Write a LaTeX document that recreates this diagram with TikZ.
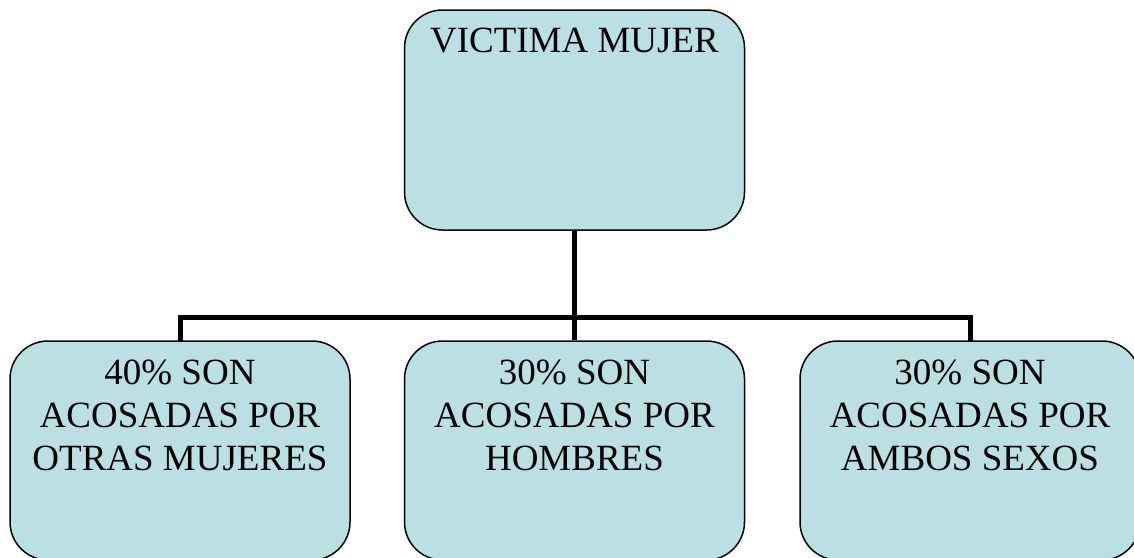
\documentclass[tikz,border=0pt]{standalone}
\usepackage{fontspec}
\setmainfont{Liberation Serif}
\usetikzlibrary{backgrounds}
\definecolor{boxfill}{RGB}{187,224,227}
\begin{document}
\begin{tikzpicture}[x=1pt,y=-1pt,
  box/.style={draw=black,line width=1.5pt,fill=boxfill,rounded corners=38pt,inner sep=0pt,minimum width=340pt},
  txt/.style={inner sep=0pt,align=center,font=\fontsize{37}{43}\selectfont,anchor=north},
  conn/.style={line width=5pt}]
\useasboundingbox (0,0) rectangle (1134,557);
% boxes
\node[box,minimum height=220pt] (top) at (574.5,120) {};
\node[box,minimum height=219pt] (left) at (180,450.5) {};
\node[box,minimum height=219pt] (mid) at (574.5,450.5) {};
\node[box,minimum height=219pt] (right) at (970,450.5) {};
% connectors
\coordinate (bus) at (574.5,317);
\begin{scope}[on background layer]
\draw[conn] (top.south) -- (bus);
\draw[conn,line cap=rect] (left.north) -- (left.north |- bus) -- (right.north |- bus) -- (right.north);
\draw[conn] (mid.north |- bus) -- (mid.north);
\end{scope}
\node[txt] (t0) at (574.5,28) {VICTIMA MUJER};
\node[txt] (t1) at (180,360) {40\% SON\\ACOSADAS POR\\OTRAS MUJERES};
\node[txt] (t2) at (574.5,360) {30\% SON\\ACOSADAS POR\\HOMBRES};
\node[txt] (t3) at (970,360) {30\% SON\\ACOSADAS POR\\AMBOS SEXOS};
\end{tikzpicture}
\end{document}
